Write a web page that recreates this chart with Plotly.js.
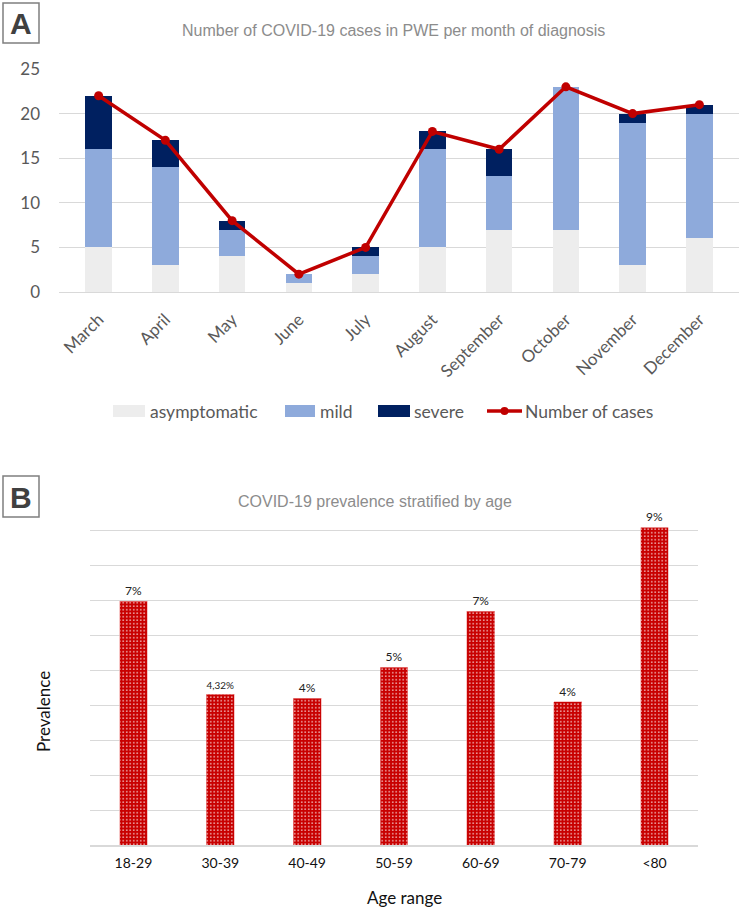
<!DOCTYPE html>
<html>
<head>
<meta charset="utf-8">
<script src="https://cdn.plot.ly/plotly-3.0.1.min.js"></script>
<style>
  html, body { margin: 0; padding: 0; background: #fff; }
  #chart { width: 740px; height: 908px; }
</style>
</head>
<body>
<div id="chart"></div>
<script>
// ---- Panel A: cases per month, stacked by severity + total line ------------
const MONTHS = ['March', 'April', 'May', 'June', 'July', 'August', 'September', 'October', 'November', 'December'];
const ASYMPTOMATIC = [5, 3, 4, 1, 2, 5, 7, 7, 3, 6];
const MILD = [11, 11, 3, 1, 2, 11, 6, 16, 16, 14];
const SEVERE = [6, 3, 1, 0, 1, 2, 3, 0, 1, 1];
const CASES = [22, 17, 8, 2, 5, 18, 16, 23, 20, 21];

// ---- Panel B: prevalence by age ---------------------------------------------
const AGE_RANGES = ['18-29', '30-39', '40-49', '50-59', '60-69', '70-79', '<80'];
const PREVALENCE = [6.98, 4.32, 4.2, 5.1, 6.7, 4.1, 9.1];
const PREVALENCE_LABELS = ['7%', '4,32%', '4%', '5%', '7%', '4%', '9%'];

const W = 740, H = 908;
const px = (x) => x / W;            // pixel → paper x
const py = (y) => 1 - y / H;        // pixel → paper y

const GRID = '#d9d9d9', TICK = '#595959', TITLE = '#8c8c8c';
const COL = { asym: '#ededed', mild: '#8eaadb', severe: '#002060', line: '#c00000' };
const CAL = 'Lato, "Open Sans", sans-serif';
const ARIAL = '"Liberation Sans", Arial, sans-serif';

const traces = [
  { type: 'bar', name: 'asymptomatic', x: MONTHS, y: ASYMPTOMATIC, width: 0.4,
    marker: { color: COL.asym }, xaxis: 'x', yaxis: 'y' },
  { type: 'bar', name: 'mild', x: MONTHS, y: MILD, width: 0.4,
    marker: { color: COL.mild }, xaxis: 'x', yaxis: 'y' },
  { type: 'bar', name: 'severe', x: MONTHS, y: SEVERE, width: 0.4,
    marker: { color: COL.severe }, xaxis: 'x', yaxis: 'y' },
  { type: 'scatter', mode: 'lines+markers', name: 'Number of cases', x: MONTHS, y: CASES,
    line: { color: COL.line, width: 3.5 }, marker: { color: COL.line, size: 9 },
    xaxis: 'x', yaxis: 'y' },
  { type: 'bar', x: AGE_RANGES, y: PREVALENCE, width: 0.32,
    text: PREVALENCE_LABELS, textposition: 'outside', cliponaxis: false,
    textfont: { family: CAL, size: 12, color: '#222' },
    marker: { color: '#cc0000', line: { color: '#f2a0a0', width: 0.6 },
      pattern: { shape: '.', bgcolor: '#c80000', fgcolor: '#ffffff', size: 3.5, solidity: 0.15 } },
    xaxis: 'x2', yaxis: 'y2' },
];

// ---- hand-drawn legend (wide Excel-style swatches) ---------------------------
const LEG_Y = 411;
const legendItems = [
  { label: 'asymptomatic', kind: 'rect', color: COL.asym, x0: 113, x1: 145, tx: 148 },
  { label: 'mild', kind: 'rect', color: COL.mild, x0: 285, x1: 315, tx: 318 },
  { label: 'severe', kind: 'rect', color: COL.severe, x0: 378, x1: 410, tx: 412 },
  { label: 'Number of cases', kind: 'line', color: COL.line, x0: 487, x1: 522, tx: 523 },
];
const legShapes = [], legAnn = [];
legendItems.forEach((it) => {
  if (it.kind === 'rect') {
    legShapes.push({ type: 'rect', xref: 'paper', yref: 'paper', x0: px(it.x0), x1: px(it.x1),
      y0: py(LEG_Y + 6), y1: py(LEG_Y - 6), line: { width: 0 }, fillcolor: it.color });
  } else {
    legShapes.push({ type: 'line', xref: 'paper', yref: 'paper', x0: px(it.x0), x1: px(it.x1),
      y0: py(LEG_Y), y1: py(LEG_Y), line: { color: it.color, width: 3.5 } });
    const cx = (it.x0 + it.x1) / 2;
    legShapes.push({ type: 'circle', xref: 'paper', yref: 'paper', x0: px(cx - 4), x1: px(cx + 4),
      y0: py(LEG_Y + 4), y1: py(LEG_Y - 4), line: { width: 0 }, fillcolor: it.color });
  }
  legAnn.push({ xref: 'paper', yref: 'paper', x: px(it.tx), y: py(LEG_Y), xanchor: 'left', yanchor: 'middle',
    text: it.label, showarrow: false, font: { family: CAL, size: 17.5, color: TICK } });
});

const ann = (x, y, text, font, extra) => Object.assign({ xref: 'paper', yref: 'paper', x: px(x), y: py(y),
  xanchor: 'center', yanchor: 'middle', text, showarrow: false, font }, extra || {});

const layout = {
  width: W, height: H,
  margin: { l: 0, r: 0, t: 0, b: 0 },
  paper_bgcolor: '#fff', plot_bgcolor: '#fff',
  barmode: 'stack',
  hovermode: false,
  showlegend: false,
  xaxis: { domain: [px(59), px(739)], anchor: 'y', tickangle: -45, ticklabelstandoff: 10,
    tickfont: { family: CAL, size: 17, color: TICK }, showgrid: false,
    showline: true, linecolor: GRID, linewidth: 1, ticks: '' },
  yaxis: { domain: [py(292), py(69)], anchor: 'x', range: [0, 25], dtick: 5,
    gridcolor: GRID, gridwidth: 1, zeroline: false, ticks: '', ticklabelstandoff: 18,
    tickfont: { family: CAL, size: 17, color: TICK } },
  xaxis2: { domain: [px(90), px(698)], anchor: 'y2', showgrid: false,
    showline: true, linecolor: GRID, linewidth: 2, ticks: '', ticklabelstandoff: 4,
    tickfont: { family: CAL, size: 14, color: '#111' } },
  yaxis2: { domain: [py(845), py(527.4)], anchor: 'x2', range: [0, 9.1], dtick: 1,
    gridcolor: GRID, gridwidth: 1, zeroline: false, showticklabels: false, ticks: '' },
  shapes: [
    { type: 'rect', xref: 'paper', yref: 'paper', x0: px(3), x1: px(39), y0: py(43), y1: py(3),
      line: { color: '#7f7f7f', width: 1.5 }, fillcolor: 'rgba(0,0,0,0)' },
    { type: 'rect', xref: 'paper', yref: 'paper', x0: px(3), x1: px(39), y0: py(517), y1: py(476),
      line: { color: '#7f7f7f', width: 1.5 }, fillcolor: 'rgba(0,0,0,0)' },
    ...legShapes,
  ],
  annotations: [
    ann(21, 24, '<b>A</b>', { family: ARIAL, size: 30, color: '#404040' }),
    ann(21, 497, '<b>B</b>', { family: ARIAL, size: 30, color: '#404040' }),
    ann(393, 30, 'Number of COVID-19 cases in PWE per month of diagnosis', { family: ARIAL, size: 16, color: TITLE }),
    ann(375, 501, 'COVID-19 prevalence stratified by age', { family: ARIAL, size: 16, color: TITLE }),
    ann(405, 897, 'Age range', { family: CAL, size: 17, color: '#111' }),
    ann(43, 712, 'Prevalence', { family: CAL, size: 17, color: '#111' }, { textangle: -90 }),
    ...legAnn,
  ],
};

Plotly.newPlot('chart', traces, layout, { staticPlot: true, displayModeBar: false });
</script>
</body>
</html>
